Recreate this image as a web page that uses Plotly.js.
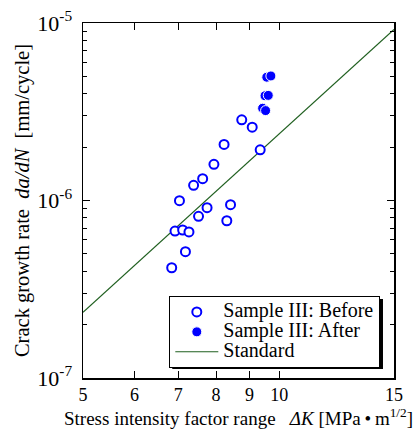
<!DOCTYPE html>
<html>
<head>
<meta charset="utf-8">
<script src="https://cdn.plot.ly/plotly-3.0.1.min.js"></script>
<style>html,body{margin:0;padding:0;background:#fff;}</style>
</head>
<body>
<div id="chart" style="width:416px;height:435px;"></div>
<script>
// Sample III: Before (open circles)
const beforeK = [6.84, 6.92, 7.11, 7.27, 7.18, 7.03, 7.39, 7.63, 7.52, 7.75, 7.94, 8.23, 8.31, 8.42, 8.76, 9.09, 9.35];
const beforeRate = [4.18e-7, 6.73e-7, 6.82e-7, 6.65e-7, 5.15e-7, 9.97e-7, 1.218e-6, 1.327e-6, 8.15e-7, 9.11e-7, 1.60e-6, 2.07e-6, 7.69e-7, 9.47e-7, 2.85e-6, 2.59e-6, 1.93e-6];
// Sample III: After (filled circles)
const afterK = [9.57, 9.71, 9.51, 9.62, 9.43, 9.53];
const afterRate = [4.95e-6, 5.03e-6, 3.89e-6, 3.91e-6, 3.31e-6, 3.21e-6];
// Standard line
const stdK = [5, 15];
const stdRate = [2.345e-7, 9.2e-6];
// Ticks
const xTickVals = [5, 6, 7, 8, 9, 10, 15];
const xTickText = ['5', '6', '7', '8', '9', '10', '15'];
const yTickVals = [1e-7, 1e-6, 1e-5];
const yTickText = ['10<sup>-7</sup>', '10<sup>-6</sup>', '10<sup>-5</sup>'];
const yMinorVals = [2e-7,3e-7,4e-7,5e-7,6e-7,7e-7,8e-7,9e-7,2e-6,3e-6,4e-6,5e-6,6e-6,7e-6,8e-6,9e-6];
// Legend labels
const seriesNames = ['Sample III: Before', 'Sample III: After', 'Standard'];

const FONT = 'Liberation Serif';
const big = s => '<span style="font-size:20px">' + s + '</span>';
const traces = [
  {x: stdK, y: stdRate, mode: 'lines', name: big(seriesNames[2]), legendrank: 3,
   line: {color: '#1f5f1f', width: 1.2}},
  {x: beforeK, y: beforeRate, mode: 'markers', name: big(seriesNames[0]), legendrank: 1,
   marker: {symbol: 'circle', size: 9, color: '#ffffff', line: {color: '#0000ff', width: 2}}},
  {x: afterK, y: afterRate, mode: 'markers', name: big(seriesNames[1]), legendrank: 2,
   marker: {symbol: 'circle', size: 10, color: '#0000ff', line: {color: '#ffffff', width: 1}}}
];

const layout = {
  width: 416, height: 435,
  margin: {l: 83, r: 22, t: 23, b: 57},
  paper_bgcolor: '#fff', plot_bgcolor: '#fff',
  font: {family: FONT, color: '#000'},
  showlegend: true,
  xaxis: {
    type: 'log', range: [Math.log10(5), Math.log10(15)],
    tickmode: 'array', tickvals: xTickVals, ticktext: xTickText,
    ticks: 'inside', ticklen: 7, tickwidth: 1, tickcolor: '#000',
    mirror: 'allticks', showline: true, linecolor: '#000', linewidth: 1.5,
    showgrid: false, zeroline: false,
    tickfont: {family: FONT, size: 18, color: '#000'},
    title: {text: 'Stress intensity factor range\u00a0\u00a0\u00a0<i>ΔK</i> [MPa\u2009•\u2009m<sup>1/2</sup>]',
            font: {family: FONT, size: 19, color: '#000'}, standoff: 4}
  },
  yaxis: {
    type: 'log', range: [-7, -5],
    tickmode: 'array', tickvals: yTickVals, ticktext: yTickText,
    ticks: 'inside', ticklen: 7, tickwidth: 1, tickcolor: '#000',
    ticklabelstandoff: 5,
    minor: {tickmode: 'array', tickvals: yMinorVals, ticks: 'inside', ticklen: 4, tickcolor: '#000', tickwidth: 1, showgrid: false},
    mirror: 'allticks', showline: true, linecolor: '#000', linewidth: 1.5,
    showgrid: false, zeroline: false,
    tickfont: {family: FONT, size: 22, color: '#000'},
    title: {text: '\u00a0\u00a0\u00a0Crack growth rate\u00a0\u00a0<i>da/dN</i>\u00a0\u00a0[mm/cycle]',
            font: {family: FONT, size: 20.5, color: '#000'}, standoff: 2}
  },
  legend: {
    x: 0.2775, y: 0.231, xanchor: 'left', yanchor: 'top',
    bgcolor: '#fff', bordercolor: '#000', borderwidth: 1,
    font: {family: FONT, size: 13, color: '#000'},
    itemwidth: 43, tracegroupgap: 0
  },
  shapes: [
    {type: 'rect', xref: 'paper', yref: 'paper', x0: 0.287, x1: 0.9646, y0: 0.0254, y1: 0.2225,
     fillcolor: '#000', line: {width: 0}, layer: 'above'}
  ]
};

Plotly.newPlot('chart', traces, layout, {displayModeBar: false, staticPlot: true});
</script>
</body>
</html>
